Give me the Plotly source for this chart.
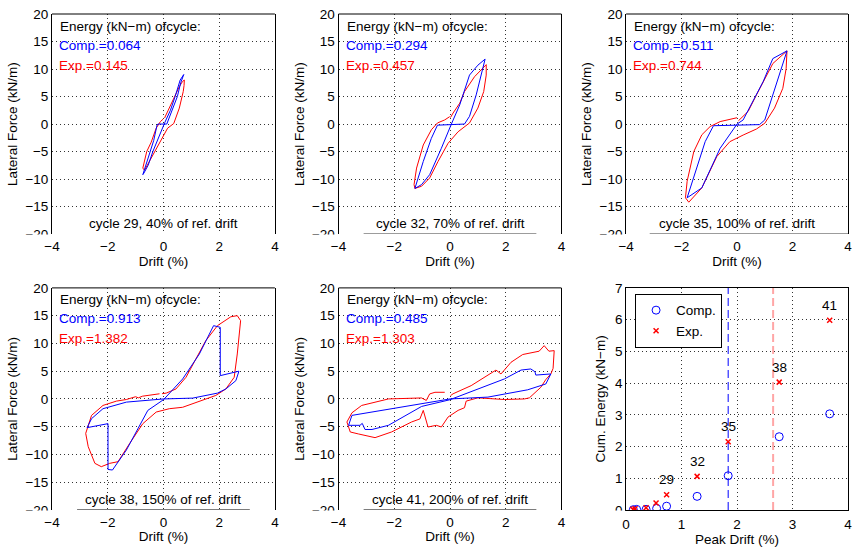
import plotly.graph_objects as go

# ---------------- Hysteresis data: drift (%) vs lateral force (kN/m) ----------------
c29_comp_x = [0.05, 0.25, 0.42, 0.60, 0.73, 0.62, 0.50, 0.33, 0.12, -0.20, -0.23, -0.35, -0.48, -0.60, -0.74, -0.70, -0.55, -0.38, -0.10, 0.05]
c29_comp_y = [0.3, 2.5, 5.0, 8.0, 9.0, 7.5, 5.0, 2.9, 0.0, 0.0, -0.2, -3.0, -5.0, -7.0, -9.2, -8.9, -7.5, -5.0, -1.5, 0.3]
c29_exp_x = [0.04, 0.12, 0.37, 0.57, 0.68, 0.75, 0.74, 0.71, 0.57, 0.37, 0.15, -0.02, -0.30, -0.56, -0.68, -0.74, -0.68, -0.60, -0.44, -0.26, -0.11, -0.01]
c29_exp_y = [1.1, 2.0, 4.7, 6.8, 7.7, 8.0, 7.0, 5.9, 2.9, 0.1, -0.75, -2.3, -5.0, -7.2, -8.4, -8.0, -6.5, -5.0, -3.3, -0.75, 0.45, 0.9]

c32_comp_x = [0.05, 0.35, 0.70, 1.00, 1.26, 1.18, 0.94, 0.70, 0.52, -0.45, -0.67, -0.96, -1.26, -1.02, -0.73, -0.31, 0.05]
c32_comp_y = [0.0, 3.5, 8.9, 10.7, 11.8, 10.1, 5.3, 1.4, 0.0, -0.2, -2.6, -6.8, -11.7, -11.0, -9.2, -4.4, 0.0]
c32_exp_x = [0.02, 0.11, 0.35, 0.52, 0.88, 1.30, 1.30, 1.21, 1.00, 0.70, 0.29, -0.07, -0.43, -0.73, -1.02, -1.26, -1.29, -1.20, -0.96, -0.67, -0.45, -0.19, -0.01]
c32_exp_y = [1.2, 2.0, 3.8, 5.9, 8.6, 10.8, 8.9, 5.9, 2.9, 0.2, -1.4, -3.5, -6.8, -9.8, -11.3, -11.7, -11.0, -8.0, -3.8, -1.05, 0.2, 0.75, 1.35]

c35_comp_x = [0.0, 0.22, 0.94, 1.29, 1.80, 1.29, 1.00, 0.81, -0.85, -1.15, -1.45, -1.80, -1.27, -0.61, 0.0]
c35_comp_y = [0.0, 0.75, 7.7, 11.9, 13.3, 5.3, 0.75, -0.1, -0.3, -3.2, -8.0, -13.4, -11.6, -4.4, 0.0]
c35_exp_x = [0.05, 0.22, 0.40, 0.70, 1.29, 1.80, 1.77, 1.65, 1.35, 1.00, 0.70, 0.22, -0.26, -0.73, -1.27, -1.74, -1.86, -1.80, -1.56, -1.27, -0.97, -0.61, -0.26, 0.0]
c35_exp_y = [0.6, 1.35, 2.3, 5.3, 11.0, 13.3, 10.1, 6.5, 2.9, 0.15, -0.9, -2.0, -3.2, -5.9, -11.6, -14.2, -13.4, -10.4, -5.0, -1.95, -0.45, 0.45, 0.9, 1.15]

c38_comp_x = [0.01, 0.69, 1.29, 1.80, 2.04, 2.04, 2.71, 2.60, 2.24, 1.94, 1.05, 0.0, -1.33, -2.17, -2.58, -2.74, -1.99, -1.99, -1.83, -1.33, -0.56, 0.01]
c38_comp_y = [-0.1, 3.6, 8.1, 13.2, 12.9, 4.2, 5.0, 3.3, 1.8, 1.05, 0.15, 0.0, -0.57, -1.76, -3.55, -5.17, -4.45, -12.7, -12.8, -9.2, -2.06, -0.1]
c38_exp_x = [-0.14, -0.50, -0.75, -0.90, -1.00, -1.33, -1.69, -2.17, -2.58, -2.79, -2.70, -2.46, -2.23, -1.93, -1.63, -1.21, -0.74, -0.26, 0.21, 0.69, 1.05, 1.40, 1.88, 2.24, 2.54, 2.65, 2.77, 2.65, 2.42, 1.94, 1.52, 0.81, 0.45, 0.10, -0.05]
c38_exp_y = [0.93, 0.63, 0.5, 0.2, 0.4, -0.1, -0.39, -1.17, -2.96, -6.2, -8.6, -11.6, -12.2, -11.6, -11.3, -8.0, -4.45, -2.36, -1.76, -1.5, -0.87, -0.27, 0.63, 1.8, 3.9, 8.1, 14.1, 15.0, 14.8, 13.2, 10.5, 3.9, 1.8, 1.05, 0.95]

c41_comp_x = [-0.01, 1.00, 1.95, 2.55, 2.90, 3.05, 3.08, 3.62, 3.44, 2.79, 1.36, 0.0, -1.02, -2.57, -3.52, -3.64, -3.23, -3.15, -3.05, -2.80, -2.21, -1.02, -0.01]
c41_comp_y = [-0.15, 1.83, 3.6, 5.2, 5.4, 4.9, 4.3, 4.5, 2.7, 1.65, 0.33, 0.0, -0.87, -2.06, -2.96, -4.75, -4.75, -4.4, -5.5, -5.5, -4.75, -1.35, -0.15]
c41_exp_x = [-0.19, -0.54, -0.73, -0.85, -1.02, -2.21, -3.17, -3.52, -3.70, -3.58, -3.29, -2.69, -2.10, -1.38, -1.08, -0.96, -0.79, -0.49, -0.31, -0.07, 0.29, 0.52, 0.58, 1.00, 1.95, 2.67, 2.85, 3.26, 3.44, 3.62, 3.70, 3.74, 3.55, 3.38, 3.20, 2.61, 2.19, 1.83, 1.65, 1.42, 0.76, 0.11, 0.02]
c41_exp_y = [1.2, 1.2, 0.9, -0.27, 0.18, 0.0, -1.17, -2.5, -4.15, -5.95, -6.3, -6.97, -5.95, -4.15, -3.6, -2.06, -5.05, -4.75, -5.05, -3.26, -2.06, -1.58, -0.39, 0.2, -0.1, 0.0, 0.2, 2.1, 3.5, 4.5, 5.5, 8.7, 8.6, 9.6, 8.6, 8.0, 6.6, 4.5, 5.2, 4.5, 2.4, 0.93, 0.6]

cycles = [29, 32, 35, 38, 41]
ref_pct = [40, 70, 100, 150, 200]
energy_comp = ["0.064", "0.294", "0.511", "0.913", "0.485"]
energy_exp = ["0.145", "0.457", "0.744", "1.382", "1.303"]

# ---------------- Cumulative energy data ----------------
peak_drift_comp = [0.13, 0.19, 0.36, 0.55, 0.73, 1.28, 1.84, 2.76, 3.67]
cum_energy_comp = [0.01, 0.02, 0.02, 0.05, 0.12, 0.43, 1.08, 2.31, 3.03]
peak_drift_exp = [0.12, 0.16, 0.36, 0.54, 0.73, 1.28, 1.84, 2.76, 3.67]
cum_energy_exp = [0.02, 0.04, 0.07, 0.22, 0.48, 1.06, 2.15, 4.03, 5.98]
label_cycles = ["29", "32", "35", "38", "41"]
label_drift = [0.73, 1.28, 1.84, 2.76, 3.67]
label_energy = [0.48, 1.06, 2.15, 4.03, 5.98]
comp_limit_drift = 1.84
exp_limit_drift = 2.65

BLUE = "#0000ff"
RED = "#ff0000"
FONT = "Liberation Sans, Arial, sans-serif"
FS = 13.5
TXT = dict(family=FONT, size=FS, color="black")

curves = [
    (c29_comp_x, c29_comp_y, c29_exp_x, c29_exp_y),
    (c32_comp_x, c32_comp_y, c32_exp_x, c32_exp_y),
    (c35_comp_x, c35_comp_y, c35_exp_x, c35_exp_y),
    (c38_comp_x, c38_comp_y, c38_exp_x, c38_exp_y),
    (c41_comp_x, c41_comp_y, c41_exp_x, c41_exp_y),
]

# plot area: left 52, right 852, top 12, bottom 510 (px)
L, R, T, B = 52, 7, 12, 40
W, H = 859, 550
PW, PH = W - L - R, H - T - B
def px(xp):
    return (xp - L) / PW
def py(yp):
    return (H - B - yp) / PH

col_dom = [[px(52), px(276)], [px(340), px(564)], [px(629), px(852)]]
row_dom = [[py(233), py(12)], [py(510), py(287)]]
bottom_px = [233, 510]
left_px = [52, 340, 629]

fig = go.Figure()
layout = dict(
    width=W, height=H, margin=dict(l=L, r=R, t=T, b=B),
    paper_bgcolor="white", plot_bgcolor="white",
    font=TXT,
    showlegend=True,
)
grid = dict(showgrid=True, gridcolor="#333333", griddash="1px,3px", gridwidth=1, zeroline=False,
            tickfont=TXT)
annotations = []
shapes = []

for i in range(6):
    r, c = divmod(i, 3)
    n = i + 1
    xa = "xaxis" if n == 1 else f"xaxis{n}"
    ya = "yaxis" if n == 1 else f"yaxis{n}"
    xr = "x" if n == 1 else f"x{n}"
    yr = "y" if n == 1 else f"y{n}"
    if i < 5:
        cx, cy, ex, ey = curves[i]
        fig.add_trace(go.Scatter(x=ex, y=ey, mode="lines", line=dict(color=RED, width=1),
                                 xaxis=xr, yaxis=yr, showlegend=False, hoverinfo="skip"))
        fig.add_trace(go.Scatter(x=cx, y=cy, mode="lines", line=dict(color=BLUE, width=1),
                                 xaxis=xr, yaxis=yr, showlegend=False, hoverinfo="skip"))
        layout[xa] = dict(domain=col_dom[c], anchor=yr, range=[-4, 4], tickvals=[-4, -2, 0, 2, 4],
                          ticktext=["−4", "−2", "0", "2", "4"], showline=False, ticks="",
                          ticklabelstandoff=2,
                          title=dict(text="Drift (%)", standoff=0, font=TXT), **grid)
        layout[ya] = dict(domain=row_dom[r], anchor=xr, range=[-20, 20],
                          tickvals=[-20, -15, -10, -5, 0, 5, 10, 15, 20],
                          ticktext=["−20", "−15", "−10", "−5", "0", "5", "10", "15", "20"],
                          showline=True, mirror=True, linecolor="black", linewidth=1, ticks="",
                          title=dict(text="Lateral Force (kN/m)", standoff=4, font=TXT), **grid)
        # top spine
        shapes.append(dict(type="line", xref=f"{xr} domain", yref=f"{yr} domain", x0=0, x1=1, y0=1, y1=1,
                           line=dict(color="black", width=1)))
        # partial bottom spine
        if i in (1, 3, 4):
            shapes.append(dict(type="line", xref=xr, yref=yr, x0=-3.1, x1=3.1, y0=-20, y1=-20,
                               line=dict(color="black", width=1)))
        elif i == 2:
            shapes.append(dict(type="line", xref=xr, yref=yr, x0=-3.15, x1=4, y0=-20, y1=-20,
                               line=dict(color="black", width=1)))
        annotations += [
            dict(xref=f"{xr} domain", yref=f"{yr} domain", x=0, y=1, xanchor="left", yanchor="middle",
                 xshift=6, yshift=-12, showarrow=False, text="Energy (kN−m) ofcycle:", font=TXT),
            dict(xref=f"{xr} domain", yref=f"{yr} domain", x=0, y=1, xanchor="left", yanchor="middle",
                 xshift=5, yshift=-31, showarrow=False, text=f"Comp.={energy_comp[i]}",
                 font=dict(family=FONT, size=FS, color=BLUE)),
            dict(xref=f"{xr} domain", yref=f"{yr} domain", x=0, y=1, xanchor="left", yanchor="middle",
                 xshift=5, yshift=-51, showarrow=False, text=f"Exp.={energy_exp[i]}",
                 font=dict(family=FONT, size=FS, color=RED)),
            dict(xref=f"{xr} domain", yref=f"{yr} domain", x=0.5, y=0, xanchor="center", yanchor="middle",
                 yshift=11, showarrow=False, text=f"cycle {cycles[i]}, {ref_pct[i]}% of ref. drift",
                 font=TXT),
        ]
    else:
        fig.add_trace(go.Scatter(x=[comp_limit_drift, comp_limit_drift], y=[0, 7], mode="lines",
                                 line=dict(color=BLUE, width=1, dash="8px,4px"),
                                 xaxis=xr, yaxis=yr, showlegend=False, hoverinfo="skip"))
        fig.add_trace(go.Scatter(x=[exp_limit_drift, exp_limit_drift], y=[0, 7], mode="lines",
                                 line=dict(color="rgba(255,0,0,0.35)", width=2, dash="8px,4px"),
                                 xaxis=xr, yaxis=yr, showlegend=False, hoverinfo="skip"))
        fig.add_trace(go.Scatter(x=peak_drift_comp, y=cum_energy_comp, mode="markers", name="Comp.",
                                 marker=dict(symbol="circle-open", size=8, color=BLUE, line=dict(width=1, color=BLUE)),
                                 xaxis=xr, yaxis=yr))
        fig.add_trace(go.Scatter(x=peak_drift_exp, y=cum_energy_exp, mode="markers", name="Exp.",
                                 marker=dict(symbol="x-thin", size=5, color=RED, line=dict(width=1.5, color=RED)),
                                 xaxis=xr, yaxis=yr))
        for lx, ly, lt in zip(label_drift, label_energy, label_cycles):
            annotations.append(dict(xref=xr, yref=yr, x=lx, y=ly, yshift=15, showarrow=False, text=lt,
                                    xanchor="center", yanchor="middle", font=TXT))
        layout[xa] = dict(domain=col_dom[c], anchor=yr, range=[0, 4], dtick=1, showline=True, mirror=True,
                          linecolor="black", linewidth=1, ticks="", ticklabelstandoff=2,
                          title=dict(text="Peak Drift (%)", standoff=0, font=TXT), **grid)
        layout[ya] = dict(domain=row_dom[r], anchor=xr, range=[0, 7], dtick=1, showline=True, mirror=True,
                          linecolor="black", linewidth=1, ticks="",
                          title=dict(text="Cum. Energy (kN−m)", standoff=6, font=TXT), **grid)
    # white cover clipping the lowest y tick label at the bottom edge
    shapes.append(dict(type="rect", xref="paper", yref="paper", layer="above",
                       x0=px(left_px[c] - 40), x1=px(left_px[c] - 1),
                       y0=py(bottom_px[r] + 0.5), y1=py(bottom_px[r] + 6.5),
                       fillcolor="white", line=dict(width=0)))

layout["legend"] = dict(x=px(638), y=py(293), xanchor="left", yanchor="top", bgcolor="white",
                        bordercolor="black", borderwidth=1, font=TXT, tracegroupgap=0)
layout["annotations"] = annotations
layout["shapes"] = shapes
fig.update_layout(**layout)
fig.write_html("out.html")
